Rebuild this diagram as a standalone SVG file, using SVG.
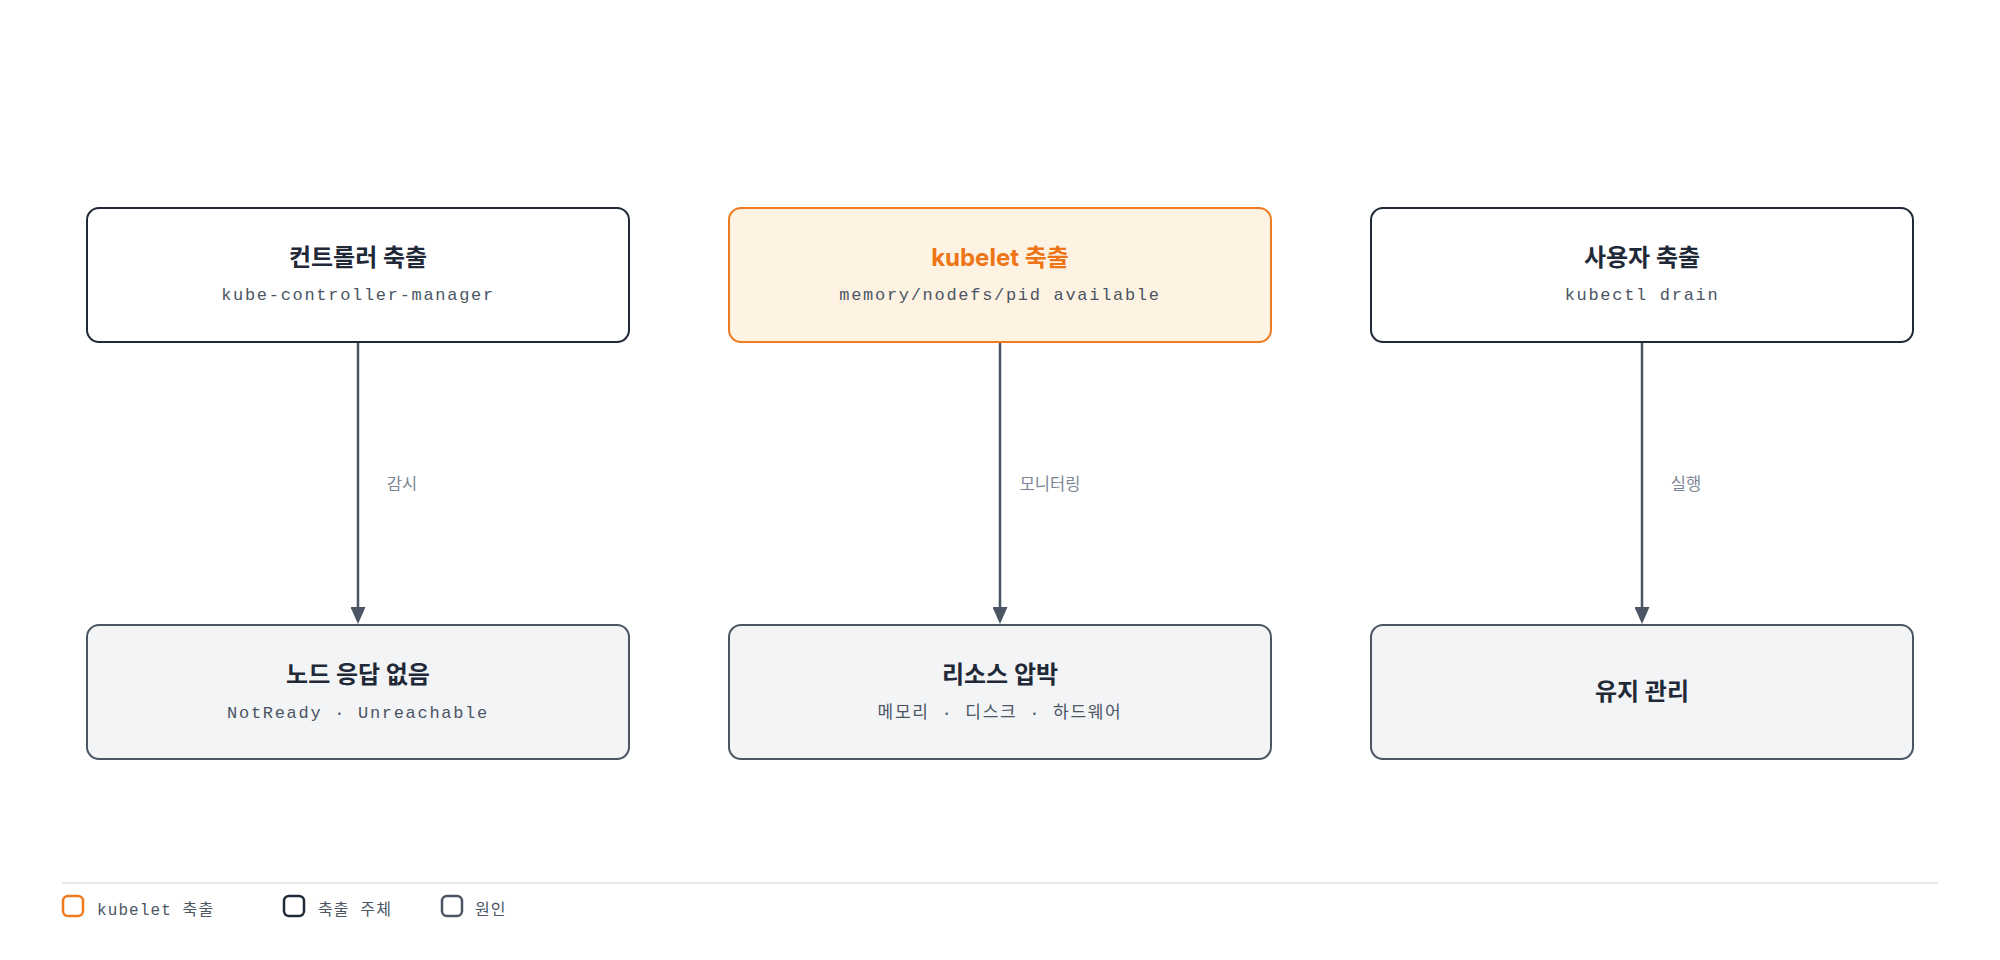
<svg xmlns="http://www.w3.org/2000/svg" width="2000" height="960" viewBox="0 0 2000 960">
<style>
.box{stroke-width:2;}
.src{fill:#ffffff;stroke:#1f2937;}
.kub{fill:#fef3e2;stroke:#f07a1e;}
.cause{fill:#f3f4f6;stroke:#4b5563;}
.title{font-family:"Inter","Noto Sans CJK KR",sans-serif;font-weight:700;font-size:24px;fill:#1f2937;text-anchor:middle;}
.title.or{fill:#ee7418;}
.sub{font-family:"Liberation Mono","Noto Sans CJK KR",monospace;font-size:17px;letter-spacing:1.7px;fill:#4b5563;text-anchor:middle;}
.lbl{font-family:"Noto Sans CJK KR",sans-serif;font-size:16.5px;fill:#7c8594;text-anchor:middle;}
.conn{stroke:#4b5563;stroke-width:2.5;fill:none;}
.leg{font-family:"Liberation Mono","Noto Sans CJK KR",monospace;font-size:16px;letter-spacing:1.1px;fill:#4b5563;}
.sw{fill:none;stroke-width:2.5;}
</style>
<defs>
<marker id="arr" markerUnits="userSpaceOnUse" markerWidth="17" markerHeight="15" viewBox="0 0 17 15" refX="0" refY="7.5" orient="auto">
<path d="M0,0 L17,7.5 L0,15 z" fill="#4b5563"/>
</marker>
</defs>
<rect width="2000" height="960" fill="#ffffff"/>

<g id="connectors">
<line class="conn" x1="358" y1="342" x2="358" y2="607" marker-end="url(#arr)"/>
<text class="lbl" x="402" y="490">감시</text>
<line class="conn" x1="1000" y1="342" x2="1000" y2="607" marker-end="url(#arr)"/>
<text class="lbl" x="1050" y="490">모니터링</text>
<line class="conn" x1="1642" y1="342" x2="1642" y2="607" marker-end="url(#arr)"/>
<text class="lbl" x="1686" y="490">실행</text>
</g>

<g id="node-controller">
<rect class="box src" x="87" y="208" width="542" height="134" rx="12"/>
<text class="title" x="358" y="266">컨트롤러 축출</text>
<text class="sub" x="358" y="300">kube-controller-manager</text>
</g>
<g id="node-kubelet">
<rect class="box kub" x="729" y="208" width="542" height="134" rx="12"/>
<text class="title or" x="1000" y="266">kubelet 축출</text>
<text class="sub" x="1000" y="300">memory/nodefs/pid available</text>
</g>
<g id="node-user">
<rect class="box src" x="1371" y="208" width="542" height="134" rx="12"/>
<text class="title" x="1642" y="266">사용자 축출</text>
<text class="sub" x="1642" y="300">kubectl drain</text>
</g>

<g id="node-noresponse">
<rect class="box cause" x="87" y="625" width="542" height="134" rx="12"/>
<text class="title" x="358" y="683">노드 응답 없음</text>
<text class="sub" x="358" y="718">NotReady · Unreachable</text>
</g>
<g id="node-pressure">
<rect class="box cause" x="729" y="625" width="542" height="134" rx="12"/>
<text class="title" x="1000" y="683">리소스 압박</text>
<text class="sub" x="1000" y="718">메모리 · 디스크 · 하드웨어</text>
</g>
<g id="node-maintenance">
<rect class="box cause" x="1371" y="625" width="542" height="134" rx="12"/>
<text class="title" x="1642" y="700">유지 관리</text>
</g>

<g id="legend">
<line x1="62" y1="883" x2="1938" y2="883" stroke="#e5e7eb" stroke-width="2"/>
<rect class="sw" x="63" y="896" width="20" height="20" rx="5" stroke="#f07a1e"/>
<text class="leg" x="97" y="915">kubelet 축출</text>
<rect class="sw" x="284" y="896" width="20" height="20" rx="5" stroke="#1f2937"/>
<text class="leg" x="318" y="915">축출 주체</text>
<rect class="sw" x="442" y="896" width="20" height="20" rx="5" stroke="#4b5563"/>
<text class="leg" x="475" y="915">원인</text>
</g>
</svg>
